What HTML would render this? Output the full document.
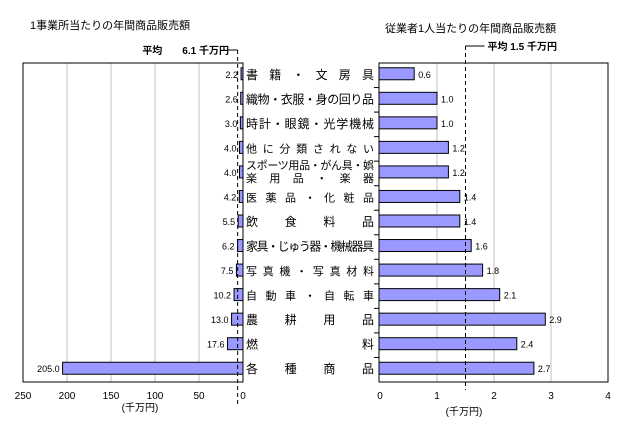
<!DOCTYPE html>
<html><head><meta charset="utf-8"><style>
html,body{margin:0;padding:0;background:#fff}
svg{display:block;font-family:"Liberation Sans","Noto Sans CJK JP",sans-serif}
</style></head><body>
<svg id="c" width="626" height="425" viewBox="0 0 626 425">
<text x="30" y="29" font-size="11">1事業所当たりの年間商品販売額</text>
<text x="385" y="32" font-size="11">従業者1人当たりの年間商品販売額</text>
<g id="g"></g>
</svg>
<script>
const categories=["書籍・文房具","織物・衣服・身の回り品","時計・眼鏡・光学機械","他に分類されない","スポーツ用品・がん具・娯楽用品・楽器","医薬品・化粧品","飲食料品","家具・じゅう器・機械器具","写真機・写真材料","自動車・自転車","農耕用品","燃料","各種商品"];
const labelLines=[["書　籍　・　文　房　具"],["織物・衣服・身の回り品"],["時計・眼鏡・光学機械"],["他　に　分　類　さ　れ　な　い"],["スポーツ用品・がん具・娯","楽　用　品　・　楽　器"],["医　薬　品　・　化　粧　品"],["飲　　食　　料　　品"],["家具・じゅう器・機械器具"],["写　真　機　・　写　真　材　料"],["自　動　車　・　自　転　車"],["農　　耕　　用　　品"],["燃　　　　　　　　料"],["各　　種　　商　　品"]];
const perEstablishment=[2.2,2.6,3.0,4.0,4.0,4.2,5.5,6.2,7.5,10.2,13.0,17.6,205.0];
const perEmployee=[0.6,1.0,1.0,1.2,1.2,1.4,1.4,1.6,1.8,2.1,2.9,2.4,2.7];
const leftTicks=[250,200,150,100,50,0];
const rightTicks=[0,1,2,3,4];
const leftMean=6.1, rightMean=1.5;

const NS="http://www.w3.org/2000/svg";
const g=document.getElementById('g');
function el(t,a,txt){const e=document.createElementNS(NS,t);for(const k in a)e.setAttribute(k,a[k]);if(txt!=null)e.textContent=txt;g.appendChild(e);return e;}
const yTop=63,yBot=382,n=categories.length,rowH=(yBot-yTop)/n;
const xL=v=>243-v*0.88;
const xR=v=>380+v*57;
const yC=i=>yTop+rowH*(i+0.5)-1.5;

for(const t of leftTicks){ if(t>0&&t<250){const e=el('line',{x1:xL(t),x2:xL(t),y1:yTop,y2:yBot,stroke:'#c0c0c0'});}
 const tx=el('text',{x:xL(t),y:399,'font-size':10,'text-anchor':'middle'},String(t));}
let r=el('rect',{x:23,y:yTop,width:220,height:yBot-yTop,fill:'none',stroke:'#000'});

let u=el('text',{x:140,y:411,'font-size':10,'text-anchor':'middle'},'(千万円)');


for(const t of rightTicks){ if(t>0&&t<4){const e=el('line',{x1:xR(t),x2:xR(t),y1:yTop,y2:yBot,stroke:'#c0c0c0'});}
 const tx=el('text',{x:xR(t),y:399,'font-size':10,'text-anchor':'middle'},String(t));}
r=el('rect',{x:379,y:yTop,width:229,height:yBot-yTop,fill:'none',stroke:'#000'});

for(let i=1;i<n;i++){const e=el('line',{x1:374,x2:379,y1:yTop+rowH*i,y2:yTop+rowH*i,stroke:'#000'});}
u=el('text',{x:464,y:415,'font-size':10,'text-anchor':'middle'},'(千万円)');


for(let i=0;i<n;i++){
 const y=yC(i);
 const v=perEstablishment[i];
 let b=el('rect',{x:xL(v),y:y-6,width:243-xL(v),height:12,fill:'#9999ff',stroke:'#000'});
 
 let t=el('text',{x:xL(v)-3,y:y+4,'font-size':9,'text-anchor':'end'},v.toFixed(1));
 
 const w=perEmployee[i];
 b=el('rect',{x:379,y:y-6,width:xR(w)-379,height:12,fill:'#9999ff',stroke:'#000'});
 
 t=el('text',{x:xR(w)+4,y:y+4,'font-size':9},w.toFixed(1));
 
 const L=labelLines[i];
 L.forEach((s,j)=>{
   const fs=L.length>1?11:(s.length>12?11:12);
   const yy=L.length>1?y-3+j*13:y+5;
   const tx=el('text',{x:246,y:yy,'font-size':fs,textLength:128,lengthAdjust:'spacing'},s);
   
 });
}
let m=el('line',{x1:xL(leftMean),x2:xL(leftMean),y1:50,y2:405,stroke:'#000','stroke-dasharray':'4,3'});

m=el('line',{x1:228,x2:xL(leftMean),y1:50,y2:50,stroke:'#000'});

let mt=el('text',{x:229,y:54,'font-size':10,'font-weight':'bold','text-anchor':'end'},'平均　　6.1 千万円');

m=el('line',{x1:xR(rightMean),x2:xR(rightMean),y1:46,y2:390,stroke:'#000','stroke-dasharray':'4,3'});

m=el('line',{x1:xR(rightMean),x2:xR(rightMean)+19,y1:46,y2:46,stroke:'#000'});

mt=el('text',{x:xR(rightMean)+22,y:50,'font-size':10,'font-weight':'bold'},'平均  1.5   千万円');

</script>
</body></html>
